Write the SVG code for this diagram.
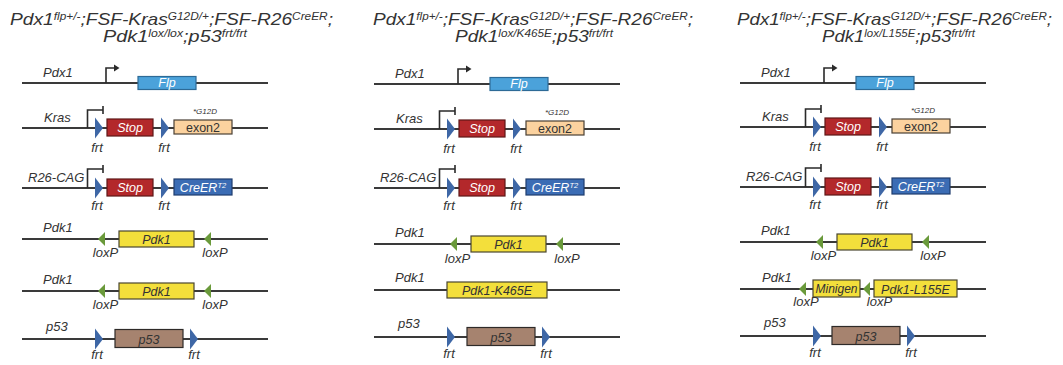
<svg xmlns="http://www.w3.org/2000/svg" xmlns:xlink="http://www.w3.org/1999/xlink" width="1063" height="365" viewBox="0 0 1063 365">
<style>
text{font-family:"Liberation Sans",Arial,sans-serif;fill:#333}
.title{font-size:17px;font-style:italic}
.sup{font-size:10.5px}
.lbl{font-size:13px;font-style:italic}
.bt{font-size:12.5px;font-style:italic;text-anchor:middle}
.wt{fill:#fff}
.mid{text-anchor:middle}
.dna{stroke:#3a3a3a;stroke-width:2;fill:none}
.prom{stroke:#2a2a2a;stroke-width:1.6;fill:none}
.frt{fill:#3e67a6}
.lox{fill:#6a9a3b}
.flp{fill:#4ba2da;stroke:#2d6a96;stroke-width:1.2}
.stop{fill:#b3282b;stroke:#5e1717;stroke-width:1.2}
.exon{fill:#fbd29f;stroke:#4a4035;stroke-width:1.2}
.cre{fill:#3b6cb4;stroke:#1f3d6e;stroke-width:1.2}
.yel{fill:#f3df3b;stroke:#4a4630;stroke-width:1.2}
.brn{fill:#a6836f;stroke:#2e2a28;stroke-width:1.2}
</style>
<defs>
<polygon id="frtTri" points="0,-10.5 8,0 0,10.5"/>
<polygon id="loxTri" points="0,0 7,-7 7,7"/>
</defs>

<g id="titles">
<text class="title" x="10" y="25" textLength="323" lengthAdjust="spacingAndGlyphs">Pdx1<tspan class="sup" dy="-5">flp+/-</tspan><tspan dy="5">;FSF-Kras</tspan><tspan class="sup" dy="-5">G12D/+</tspan><tspan dy="5">;FSF-R26</tspan><tspan class="sup" dy="-5">CreER</tspan><tspan dy="5">;</tspan></text>
<text class="title" x="103" y="42" textLength="144" lengthAdjust="spacingAndGlyphs">Pdk1<tspan class="sup" dy="-5">lox/lox</tspan><tspan dy="5">;p53</tspan><tspan class="sup" dy="-5">frt/frt</tspan></text>
<text class="title" x="373" y="25" textLength="320" lengthAdjust="spacingAndGlyphs">Pdx1<tspan class="sup" dy="-5">flp+/-</tspan><tspan dy="5">;FSF-Kras</tspan><tspan class="sup" dy="-5">G12D/+</tspan><tspan dy="5">;FSF-R26</tspan><tspan class="sup" dy="-5">CreER</tspan><tspan dy="5">;</tspan></text>
<text class="title" x="455" y="42" textLength="158" lengthAdjust="spacingAndGlyphs">Pdk1<tspan class="sup" dy="-5">lox/K465E</tspan><tspan dy="5">;p53</tspan><tspan class="sup" dy="-5">frt/frt</tspan></text>
<text class="title" x="737" y="25" textLength="315" lengthAdjust="spacingAndGlyphs">Pdx1<tspan class="sup" dy="-5">flp+/-</tspan><tspan dy="5">;FSF-Kras</tspan><tspan class="sup" dy="-5">G12D/+</tspan><tspan dy="5">;FSF-R26</tspan><tspan class="sup" dy="-5">CreER</tspan><tspan dy="5">;</tspan></text>
<text class="title" x="822" y="42" textLength="153" lengthAdjust="spacingAndGlyphs">Pdk1<tspan class="sup" dy="-5">lox/L155E</tspan><tspan dy="5">;p53</tspan><tspan class="sup" dy="-5">frt/frt</tspan></text>
</g>

<!-- Panel 1 -->
<g id="p1-pdx1" transform="translate(0,83)">
<line class="dna" x1="22" y1="0" x2="268" y2="0"/>
<text class="lbl" x="43" y="-6">Pdx1</text>
<path class="prom" d="M106,0 V-15 H115"/><polygon fill="#2a2a2a" points="114,-18.5 119.5,-15 114,-11.5"/>
<rect class="flp" x="138" y="-6.5" width="58" height="13"/><text class="bt wt" x="167" y="4">Flp</text>
</g>
<g id="p1-kras" transform="translate(0,128)">
<line class="dna" x1="22" y1="0" x2="268" y2="0"/>
<text class="lbl" x="44" y="-6">Kras</text>
<path class="prom" d="M87.5,0 V-18 H103 M103,-22 V-14"/>
<use href="#frtTri" class="frt" x="95"/>
<rect class="stop" x="107" y="-9" width="46" height="17"/><text class="bt wt" x="130" y="4">Stop</text>
<use href="#frtTri" class="frt" x="161"/>
<rect class="exon" x="174" y="-8" width="58" height="14"/><text class="mid" style="font-size:12.5px" x="203" y="4">exon2</text>
<text class="lbl" style="font-size:8px" x="193" y="-14">*G12D</text>
<text class="lbl mid" x="97" y="24">frt</text><text class="lbl mid" x="164" y="24">frt</text>
</g>
<g id="p1-r26" transform="translate(0,188)">
<line class="dna" x1="22" y1="0" x2="268" y2="0"/>
<text class="lbl" x="28" y="-6">R26-CAG</text>
<path class="prom" d="M87.5,0 V-19 H103 M103,-23 V-15"/>
<use href="#frtTri" class="frt" x="95"/>
<rect class="stop" x="107" y="-9" width="46" height="17"/><text class="bt wt" x="130" y="4">Stop</text>
<use href="#frtTri" class="frt" x="161"/>
<rect class="cre" x="174" y="-9" width="58" height="16"/><text class="bt wt" x="203" y="3.5">CreER<tspan style="font-size:7.5px" dy="-4">T2</tspan></text>
<text class="lbl mid" x="97" y="22">frt</text><text class="lbl mid" x="164" y="22">frt</text>
</g>
<g id="p1-pdk1a" transform="translate(0,239)">
<line class="dna" x1="22" y1="0" x2="268" y2="0"/>
<text class="lbl" x="43" y="-7">Pdk1</text>
<use href="#loxTri" class="lox" x="98"/>
<rect class="yel" x="119" y="-8" width="75" height="16"/><text class="bt" x="156.5" y="4.5">Pdk1</text>
<use href="#loxTri" class="lox" x="204"/>
<text class="lbl mid" x="105.5" y="18">loxP</text><text class="lbl mid" x="215" y="18">loxP</text>
</g>
<g id="p1-pdk1b" transform="translate(0,291)">
<line class="dna" x1="22" y1="0" x2="268" y2="0"/>
<text class="lbl" x="43" y="-7">Pdk1</text>
<use href="#loxTri" class="lox" x="98"/>
<rect class="yel" x="119" y="-8" width="75" height="16"/><text class="bt" x="156.5" y="4.5">Pdk1</text>
<use href="#loxTri" class="lox" x="204"/>
<text class="lbl mid" x="105.5" y="18">loxP</text><text class="lbl mid" x="215" y="18">loxP</text>
</g>
<g id="p1-p53" transform="translate(0,339)">
<line class="dna" x1="22" y1="0" x2="268" y2="0"/>
<text class="lbl" x="46" y="-8">p53</text>
<use href="#frtTri" class="frt" x="95"/>
<rect class="brn" x="115" y="-9.5" width="68" height="18"/><text class="bt" x="149" y="4.5">p53</text>
<use href="#frtTri" class="frt" x="190"/>
<text class="lbl mid" x="97" y="20">frt</text><text class="lbl mid" x="194" y="20">frt</text>
</g>

<!-- Panel 2 -->
<g id="p2-pdx1" transform="translate(352,84)">
<line class="dna" x1="22" y1="0" x2="268" y2="0"/>
<text class="lbl" x="43" y="-6">Pdx1</text>
<path class="prom" d="M106,0 V-15 H115"/><polygon fill="#2a2a2a" points="114,-18.5 119.5,-15 114,-11.5"/>
<rect class="flp" x="138" y="-6.5" width="58" height="13"/><text class="bt wt" x="167" y="4">Flp</text>
</g>
<g id="p2-kras" transform="translate(352,129)">
<line class="dna" x1="22" y1="0" x2="268" y2="0"/>
<text class="lbl" x="44" y="-6">Kras</text>
<path class="prom" d="M87.5,0 V-18 H103 M103,-22 V-14"/>
<use href="#frtTri" class="frt" x="95"/>
<rect class="stop" x="107" y="-9" width="46" height="17"/><text class="bt wt" x="130" y="4">Stop</text>
<use href="#frtTri" class="frt" x="161"/>
<rect class="exon" x="174" y="-8" width="58" height="14"/><text class="mid" style="font-size:12.5px" x="203" y="4">exon2</text>
<text class="lbl" style="font-size:8px" x="193" y="-14">*G12D</text>
<text class="lbl mid" x="97" y="24">frt</text><text class="lbl mid" x="164" y="24">frt</text>
</g>
<g id="p2-r26" transform="translate(352,188)">
<line class="dna" x1="22" y1="0" x2="268" y2="0"/>
<text class="lbl" x="28" y="-6">R26-CAG</text>
<path class="prom" d="M87.5,0 V-19 H103 M103,-23 V-15"/>
<use href="#frtTri" class="frt" x="95"/>
<rect class="stop" x="107" y="-9" width="46" height="17"/><text class="bt wt" x="130" y="4">Stop</text>
<use href="#frtTri" class="frt" x="161"/>
<rect class="cre" x="174" y="-9" width="58" height="16"/><text class="bt wt" x="203" y="3.5">CreER<tspan style="font-size:7.5px" dy="-4">T2</tspan></text>
<text class="lbl mid" x="97" y="22">frt</text><text class="lbl mid" x="164" y="22">frt</text>
</g>
<g id="p2-pdk1a" transform="translate(352,244)">
<line class="dna" x1="22" y1="0" x2="268" y2="0"/>
<text class="lbl" x="43" y="-7">Pdk1</text>
<use href="#loxTri" class="lox" x="98"/>
<rect class="yel" x="119" y="-8" width="75" height="16"/><text class="bt" x="156.5" y="4.5">Pdk1</text>
<use href="#loxTri" class="lox" x="204"/>
<text class="lbl mid" x="105.5" y="19">loxP</text><text class="lbl mid" x="215" y="19">loxP</text>
</g>
<g id="p2-pdk1k465e" transform="translate(352,290)">
<line class="dna" x1="22" y1="0" x2="268" y2="0"/>
<text class="lbl" x="43" y="-8">Pdk1</text>
<rect class="yel" x="95" y="-8" width="100" height="16"/><text class="bt" x="145" y="4.5">Pdk1-K465E</text>
</g>
<g id="p2-p53" transform="translate(352,337)">
<line class="dna" x1="22" y1="0" x2="268" y2="0"/>
<text class="lbl" x="46" y="-9">p53</text>
<use href="#frtTri" class="frt" x="95"/>
<rect class="brn" x="115" y="-9.5" width="68" height="18"/><text class="bt" x="149" y="4.5">p53</text>
<use href="#frtTri" class="frt" x="190"/>
<text class="lbl mid" x="97" y="21">frt</text><text class="lbl mid" x="194" y="21">frt</text>
</g>

<!-- Panel 3 -->
<g id="p3-pdx1" transform="translate(718,83)">
<line class="dna" x1="22" y1="0" x2="268" y2="0"/>
<text class="lbl" x="43" y="-6">Pdx1</text>
<path class="prom" d="M106,0 V-15 H115"/><polygon fill="#2a2a2a" points="114,-18.5 119.5,-15 114,-11.5"/>
<rect class="flp" x="138" y="-6.5" width="58" height="13"/><text class="bt wt" x="167" y="4">Flp</text>
</g>
<g id="p3-kras" transform="translate(718,127)">
<line class="dna" x1="22" y1="0" x2="268" y2="0"/>
<text class="lbl" x="44" y="-6">Kras</text>
<path class="prom" d="M87.5,0 V-18 H103 M103,-22 V-14"/>
<use href="#frtTri" class="frt" x="95"/>
<rect class="stop" x="107" y="-9" width="46" height="17"/><text class="bt wt" x="130" y="4">Stop</text>
<use href="#frtTri" class="frt" x="161"/>
<rect class="exon" x="174" y="-8" width="58" height="14"/><text class="mid" style="font-size:12.5px" x="203" y="4">exon2</text>
<text class="lbl" style="font-size:8px" x="193" y="-14">*G12D</text>
<text class="lbl mid" x="97" y="24">frt</text><text class="lbl mid" x="164" y="24">frt</text>
</g>
<g id="p3-r26" transform="translate(718,187)">
<line class="dna" x1="22" y1="0" x2="268" y2="0"/>
<text class="lbl" x="28" y="-6">R26-CAG</text>
<path class="prom" d="M87.5,0 V-19 H103 M103,-23 V-15"/>
<use href="#frtTri" class="frt" x="95"/>
<rect class="stop" x="107" y="-9" width="46" height="17"/><text class="bt wt" x="130" y="4">Stop</text>
<use href="#frtTri" class="frt" x="161"/>
<rect class="cre" x="174" y="-9" width="58" height="16"/><text class="bt wt" x="203" y="3.5">CreER<tspan style="font-size:7.5px" dy="-4">T2</tspan></text>
<text class="lbl mid" x="97" y="22">frt</text><text class="lbl mid" x="164" y="22">frt</text>
</g>
<g id="p3-pdk1a" transform="translate(718,242)">
<line class="dna" x1="22" y1="0" x2="268" y2="0"/>
<text class="lbl" x="43" y="-7">Pdk1</text>
<use href="#loxTri" class="lox" x="98"/>
<rect class="yel" x="119" y="-8" width="75" height="16"/><text class="bt" x="156.5" y="4.5">Pdk1</text>
<use href="#loxTri" class="lox" x="204"/>
<text class="lbl mid" x="105.5" y="18">loxP</text><text class="lbl mid" x="215" y="18">loxP</text>
</g>
<g id="p3-pdk1l155e" transform="translate(718,289)">
<line class="dna" x1="22" y1="0" x2="268" y2="0"/>
<text class="lbl" x="44" y="-7">Pdk1</text>
<use href="#loxTri" class="lox" x="81"/>
<rect class="yel" x="95" y="-9" width="47" height="17"/><text class="bt" style="font-size:12px" x="118.5" y="4">Minigen</text>
<use href="#loxTri" class="lox" x="145"/>
<rect class="yel" x="156" y="-9" width="83" height="17"/><text class="bt" x="197.5" y="4.5">Pdk1-L155E</text>
<text class="lbl mid" x="88" y="17">loxP</text><text class="lbl mid" x="161.5" y="17">loxP</text>
</g>
<g id="p3-p53" transform="translate(718,336)">
<line class="dna" x1="22" y1="0" x2="268" y2="0"/>
<text class="lbl" x="46" y="-9">p53</text>
<use href="#frtTri" class="frt" x="95"/>
<rect class="brn" x="114" y="-9.5" width="68" height="18"/><text class="bt" x="148" y="4.5">p53</text>
<use href="#frtTri" class="frt" x="189"/>
<text class="lbl mid" x="97" y="21">frt</text><text class="lbl mid" x="193" y="21">frt</text>
</g>
</svg>
